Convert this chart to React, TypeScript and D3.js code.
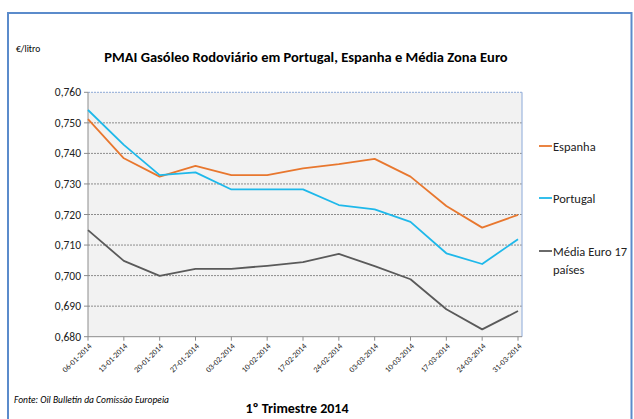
import React from "react";
import * as d3 from "d3";

const categories = ["06-01-2014","13-01-2014","20-01-2014","27-01-2014","03-02-2014","10-02-2014","17-02-2014","24-02-2014","03-03-2014","10-03-2014","17-03-2014","24-03-2014","31-03-2014"];
const espanha = [0.7512,0.7384,0.7324,0.7359,0.7329,0.7329,0.7351,0.7365,0.7382,0.7324,0.7228,0.7157,0.7199];
const portugal = [0.7542,0.7428,0.7329,0.7338,0.7282,0.7282,0.7282,0.7231,0.7217,0.7176,0.7073,0.7038,0.7119];
const mediaEuro = [0.7149,0.7048,0.6999,0.7022,0.7022,0.7032,0.7044,0.7071,0.7031,0.6988,0.6890,0.6824,0.6884];
const yTicks = [0.68,0.69,0.70,0.71,0.72,0.73,0.74,0.75,0.76];

const FONT = "Carlito, Lato, 'Open Sans', sans-serif";

export default function App() {
  const W = 634, H = 419;
  const left = 88, right = 522, top = 92.3, bottom = 336.7;
  const x = d3.scalePoint<string>().domain(categories).range([left, 518]);
  const y = d3.scaleLinear().domain([0.68, 0.76]).range([bottom, top]);
  const line = d3.line<number>().x((_, i) => x(categories[i]) as number).y(d => y(d));
  const fmt = (v: number) => v.toFixed(3).replace(".", ",");
  const series = [
    { name: ["Espanha"], data: espanha, color: "#E8772E", ly: 147 },
    { name: ["Portugal"], data: portugal, color: "#1EB8EA", ly: 199 },
    { name: ["Média Euro 17", "países"], data: mediaEuro, color: "#5A5A5A", ly: 252 },
  ];
  return (
    <svg width={W} height={H} style={{ display: "block", position: "absolute", left: 0, top: 0 }} fontFamily={FONT}>
      <rect x={0} y={0} width={W} height={H} fill="#fff" />
      <rect x={8} y={13} width={623.5} height={420} fill="none" stroke="#5B8BCB" strokeWidth={2} />
      <text x={16} y={52} fontSize={9.5} fill="#000">€/litro</text>
      <text x={306} y={62} fontSize={14.5} fontWeight={600} textAnchor="middle" fill="#000">PMAI Gasóleo Rodoviário em Portugal, Espanha e Média Zona Euro</text>
      <rect x={left} y={top} width={right - left} height={bottom - top} fill="#F2F2F2" />
      {yTicks.map(t => (
        <g key={t}>
          {t > 0.68 && <line x1={left} x2={right} y1={y(t)} y2={y(t)} stroke={t === 0.76 ? "#8EA9D6" : "#8C8C8C"} strokeWidth={1} strokeDasharray="2,1" />}
          <line x1={left - 4} x2={left} y1={y(t)} y2={y(t)} stroke="#8C8C8C" />
          <text x={81} y={y(t) + 4} fontSize={11.5} textAnchor="end" fill="#222">{fmt(t)}</text>
        </g>
      ))}
      <line x1={right} x2={right} y1={top} y2={bottom} stroke="#9DB6DE" strokeWidth={1.2} />
      <line x1={left} x2={left} y1={top} y2={bottom} stroke="#8C8C8C" />
      <line x1={left} x2={right} y1={bottom} y2={bottom} stroke="#8C8C8C" />
      {categories.map(c => (
        <g key={c}>
          <line x1={x(c)} x2={x(c)} y1={bottom} y2={bottom + 4} stroke="#8C8C8C" />
          <text transform={`translate(${(x(c) as number) + 4},${bottom + 10}) rotate(-45)`} fontSize={8} textAnchor="end" fill="#222">{c}</text>
        </g>
      ))}
      {series.map(s => (
        <path key={s.name[0]} d={line(s.data) || ""} fill="none" stroke={s.color} strokeWidth={1.8} strokeLinejoin="round" />
      ))}
      {series.map(s => (
        <g key={"l" + s.name[0]}>
          <line x1={539} x2={552} y1={s.ly - 1} y2={s.ly - 1} stroke={s.color} strokeWidth={1.8} />
          {s.name.map((n, i) => (
            <text key={n} x={553} y={s.ly + 4 + i * 18} fontSize={12.5} fill="#222">{n}</text>
          ))}
        </g>
      ))}
      <text x={14} y={403} fontSize={9.5} fontStyle="italic" fill="#000">Fonte: Oil Bulletin da Comissão Europeia</text>
      <text x={297} y={413} fontSize={14} fontWeight={600} textAnchor="middle" fill="#000">1º Trimestre 2014</text>
    </svg>
  );
}
